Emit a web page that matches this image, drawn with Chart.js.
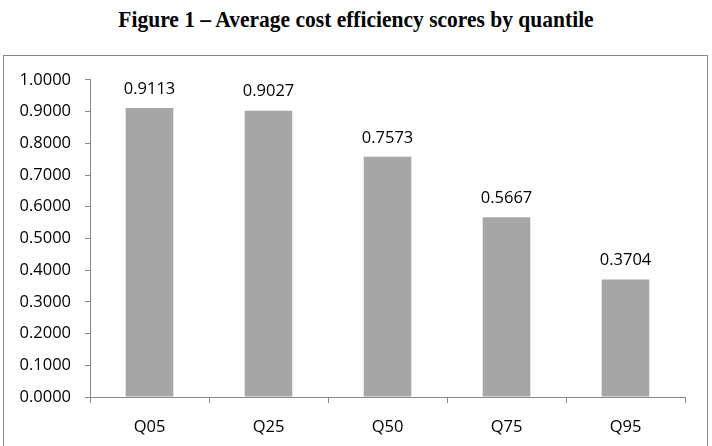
<!DOCTYPE html>
<html>
<head>
<meta charset="utf-8">
<script src="https://cdn.jsdelivr.net/npm/chart.js@4"></script>
<style>
  html, body { margin: 0; padding: 0; background: #fff; }
  body { width: 712px; height: 446px; position: relative; overflow: hidden; }
  #title {
    position: absolute; left: 0; top: 7px; width: 712px; text-align: center;
    font-family: "Liberation Serif", "Times New Roman", serif; font-weight: bold; font-size: 21.5px; color: #000;
    transform: scaleY(1.12);
  }
  #box {
    position: absolute; left: 3px; top: 55px; width: 703px; height: 400px;
    border: 1px solid #888;
  }
  #myChart { position: absolute; left: 0; top: 0; }
</style>
</head>
<body>
<div id="title">Figure 1 – Average cost efficiency scores by quantile</div>
<div id="box"><canvas id="myChart" width="703" height="390"></canvas></div>
<script>
var quantiles = ['Q05', 'Q25', 'Q50', 'Q75', 'Q95'];
var scores = [0.9113, 0.9027, 0.7573, 0.5667, 0.3704];

var fontFamily = '"Open Sans", sans-serif';
var fontSize = 16.5;

// draws the value above each bar
var barLabels = {
    id: 'barLabels',
    afterDatasetsDraw: function(chart) {
        var ctx = chart.ctx;
        var meta = chart.getDatasetMeta(0);
        ctx.save();
        ctx.font = fontSize + 'px ' + fontFamily;
        ctx.fillStyle = '#000';
        ctx.textAlign = 'center';
        ctx.textBaseline = 'middle';
        meta.data.forEach(function(bar, i) {
            ctx.fillText(scores[i].toFixed(4), bar.x, bar.y - 19);
        });
        ctx.restore();
    }
};

var ctx = document.getElementById('myChart');
var myChart = new Chart(ctx, {
    type: 'bar',
    data: {
        labels: quantiles,
        datasets: [{
            data: scores,
            backgroundColor: '#a6a6a6',
            borderWidth: 0,
            barPercentage: 0.4,
            categoryPercentage: 1.0
        }]
    },
    options: {
        responsive: false,
        animation: false,
        layout: { padding: { top: 22, right: 22, bottom: 0, left: 0 } },
        plugins: {
            legend: { display: false },
            tooltip: { enabled: false }
        },
        scales: {
            x: {
                offset: true,
                grid: { display: true, drawOnChartArea: false, drawTicks: true, tickLength: 6, color: '#888', offset: true },
                border: { display: true, color: '#888' },
                ticks: { color: '#000', padding: 14, font: { family: fontFamily, size: fontSize } },
                afterFit: function(scale) { scale.height = 49; }
            },
            y: {
                min: 0,
                max: 1,
                grid: { display: true, drawOnChartArea: false, drawTicks: true, tickLength: 5, color: '#888' },
                border: { display: true, color: '#888' },
                ticks: {
                    stepSize: 0.1,
                    color: '#000',
                    padding: 14,
                    font: { family: fontFamily, size: fontSize },
                    callback: function(v) { return v.toFixed(4); }
                },
                afterFit: function(scale) { scale.width = 86; }
            }
        }
    },
    plugins: [barLabels]
});
</script>
</body>
</html>
